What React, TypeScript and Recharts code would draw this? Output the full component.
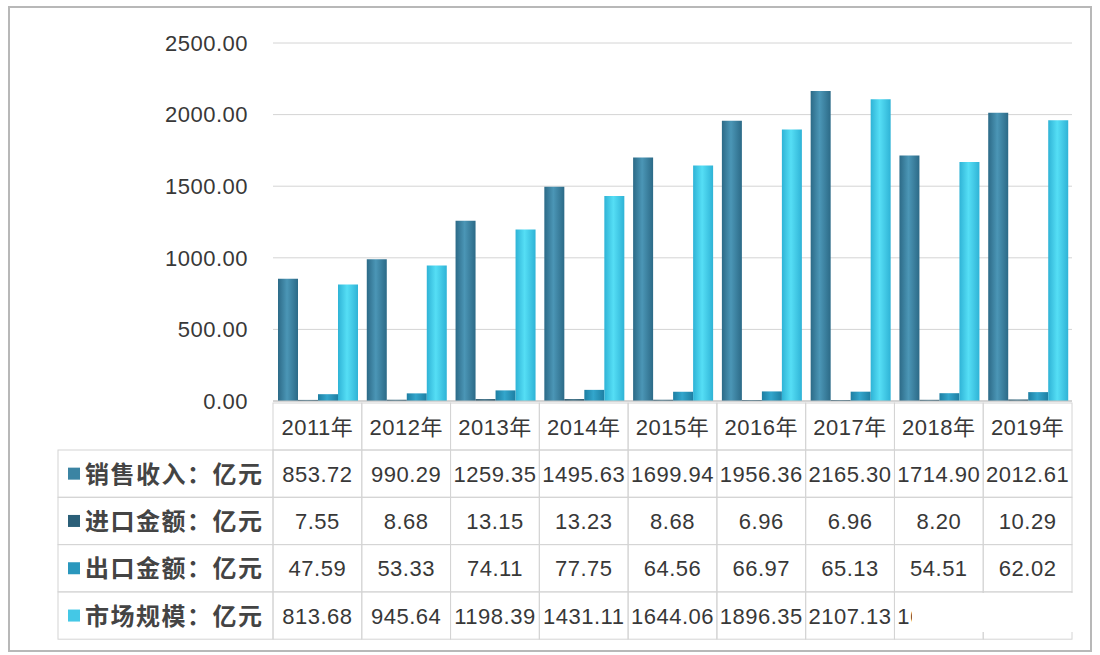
import React from 'react';
import { BarChart, Bar, XAxis, YAxis, CartesianGrid } from 'recharts';

const years = ['2011年', '2012年', '2013年', '2014年', '2015年', '2016年', '2017年', '2018年', '2019年'];
const sales = [853.72, 990.29, 1259.35, 1495.63, 1699.94, 1956.36, 2165.3, 1714.9, 2012.61];
const imports = [7.55, 8.68, 13.15, 13.23, 8.68, 6.96, 6.96, 8.2, 10.29];
const exports = [47.59, 53.33, 74.11, 77.75, 64.56, 66.97, 65.13, 54.51, 62.02];
const market = [813.68, 945.64, 1198.39, 1431.11, 1644.06, 1896.35, 2107.13, 1668.59, 1960.88];
const yTicks = [0, 500, 1000, 1500, 2000, 2500];

const series = [
  { key: 'sales', label: '销售收入：亿元', color: '#3b84a3', grad: ['#2c6a87', '#4b96b6'] },
  { key: 'imports', label: '进口金额：亿元', color: '#2b5f78', grad: ['#1f4c62', '#31677f'] },
  { key: 'exports', label: '出口金额：亿元', color: '#2a97bd', grad: ['#1d7ea2', '#33a6cc'] },
  { key: 'market', label: '市场规模：亿元', color: '#44c8e6', grad: ['#2fb3d6', '#55def5'] },
];
const values = [sales, imports, exports, market];

const data = years.map((year, i) => ({
  year,
  sales: sales[i],
  imports: imports[i],
  exports: exports[i],
  market: market[i],
}));

const NUM_FONT = '"Liberation Sans", "Noto Sans CJK SC", sans-serif';
const CJK_FONT = '"Noto Sans CJK SC", sans-serif';
const TEXT = '#383838';
const LINE = '#d4d4d4';
const COL_W = 799 / 9;
const HEAD_H = 47;
const ROW_H = 47.3;
const LABEL_LEFT = 58;

const TableTick = (props: any) => {
  const { x, y, index, payload } = props;
  const left = x - COL_W / 2;
  const top = y + 2;
  const rowsTop = top + HEAD_H;
  return (
    <g>
      <rect x={left} y={top} width={COL_W} height={HEAD_H} fill="none" stroke={LINE} />
      <text
        x={x}
        y={top + HEAD_H / 2 + 8}
        textAnchor="middle"
        fontSize={22}
        fontFamily={NUM_FONT}
        fill={TEXT}
        letterSpacing={0.5}
      >
        {payload.value}
      </text>
      {values.map((vals, r) => (
        <g key={r}>
          <rect x={left} y={rowsTop + r * ROW_H} width={COL_W} height={ROW_H} fill="none" stroke={LINE} />
          <text
            x={x}
            y={rowsTop + r * ROW_H + ROW_H / 2 + 8}
            textAnchor="middle"
            fontSize={22}
            fontFamily={NUM_FONT}
            fill={TEXT}
            letterSpacing={0.5}
          >
            {vals[index].toFixed(2)}
          </text>
        </g>
      ))}
      {index === 0 &&
        series.map((s, r) => (
          <g key={s.key}>
            <rect x={LABEL_LEFT} y={rowsTop + r * ROW_H} width={left - LABEL_LEFT} height={ROW_H} fill="none" stroke={LINE} />
            <rect x={LABEL_LEFT + 10} y={rowsTop + r * ROW_H + ROW_H / 2 - 6} width={12} height={12} fill={s.color} />
            <text
              x={LABEL_LEFT + 27}
              y={rowsTop + r * ROW_H + ROW_H / 2 + 9}
              fontSize={24}
              fontWeight={700}
              fontFamily={CJK_FONT}
              fill="#444"
              letterSpacing={1.5}
            >
              {s.label}
            </text>
          </g>
        ))}
      {/* white patch that hides part of the last row in the source image */}
      {index === years.length - 1 && <rect x={912} y={593} width={161} height={39} fill="#ffffff" />}
    </g>
  );
};

export default function App() {
  return (
    <div style={{ position: 'absolute', left: 0, top: 0, width: 1100, height: 655, background: '#fff' }}>
      <div
        style={{
          position: 'absolute',
          left: 8,
          top: 6,
          width: 1080,
          height: 642,
          border: '2px solid #b8b8b8',
        }}
      />
      <BarChart
        width={1100}
        height={655}
        data={data}
        margin={{ top: 43, right: 28, left: 0, bottom: 0 }}
        barCategoryGap={5}
        barGap={0}
      >
        <defs>
          {series.map((s) => (
            <linearGradient key={s.key} id={`g-${s.key}`} x1="0" y1="0" x2="1" y2="0">
              <stop offset="0%" stopColor={s.grad[0]} />
              <stop offset="45%" stopColor={s.grad[1]} />
              <stop offset="100%" stopColor={s.grad[0]} />
            </linearGradient>
          ))}
        </defs>
        <CartesianGrid vertical={false} stroke={LINE} />
        <YAxis
          width={273}
          domain={[0, 2500]}
          ticks={yTicks}
          axisLine={false}
          tickLine={false}
          tickSize={0}
          tickMargin={25}
          tickFormatter={(v: number) => v.toFixed(2)}
          tick={{ fontSize: 22, fontFamily: NUM_FONT, fill: TEXT, letterSpacing: 0.5 }}
        />
        <XAxis
          dataKey="year"
          height={254}
          interval={0}
          axisLine={{ stroke: '#bfbfbf' }}
          tickLine={false}
          tickSize={0}
          tickMargin={0}
          tick={(p: any) => <TableTick {...p} />}
        />
        {series.map((s) => (
          <Bar key={s.key} dataKey={s.key} name={s.label} fill={`url(#g-${s.key})`} isAnimationActive={false} />
        ))}
      </BarChart>
    </div>
  );
}
